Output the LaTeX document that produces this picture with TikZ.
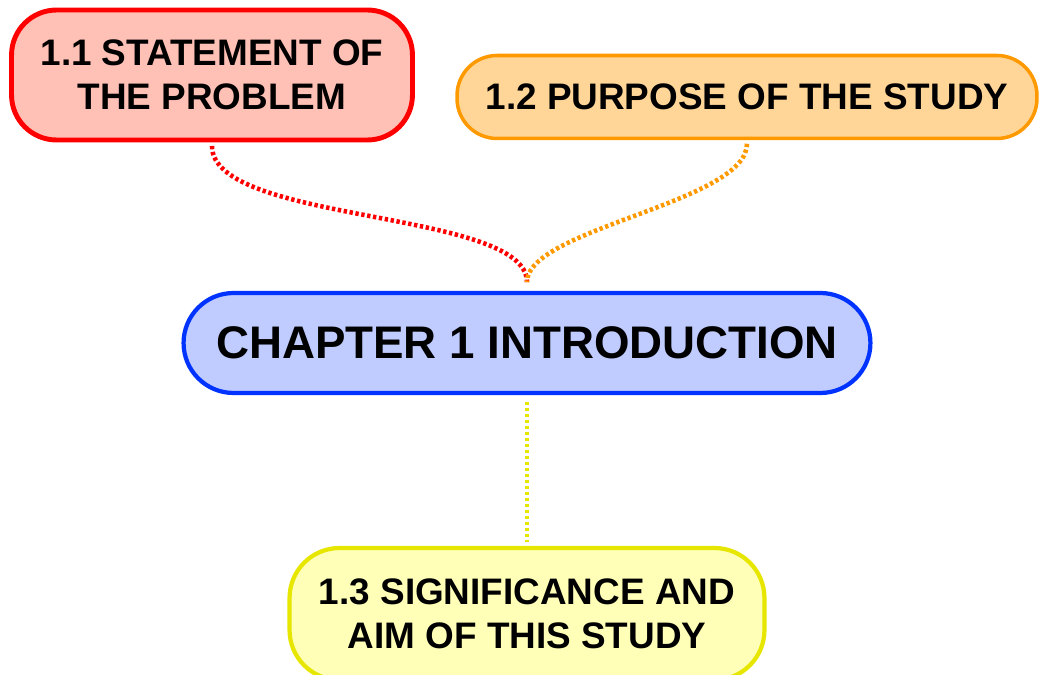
\documentclass[tikz,border=0pt]{standalone}
\usepackage{fontspec}
\setmainfont{Liberation Sans}
\definecolor{redline}{HTML}{FF0000}
\definecolor{redfill}{HTML}{FFC0B6}
\definecolor{orangeline}{HTML}{FF9900}
\definecolor{orangefill}{HTML}{FFD698}
\definecolor{blueline}{HTML}{0033FF}
\definecolor{bluefill}{HTML}{C0CCFF}
\definecolor{yellowline}{HTML}{E6E600}
\definecolor{yellowfill}{HTML}{FFFFB8}

\begin{document}
\begin{tikzpicture}[x=0.02cm, y=-0.02cm,
  topic/.style={draw, align=center, inner sep=0pt, line width=2.4pt,
    font=\fontsize{21}{25}\selectfont\bfseries},
  link/.style={line width=2.6pt, dash pattern=on 1.9pt off 1.5pt}]
  \useasboundingbox (0,0) rectangle (1042,675);

  % Centre topic
  \node[topic, draw=blueline, fill=bluefill, rounded corners=1cm,
    minimum width=13.74cm, minimum height=2cm,
    font=\fontsize{26}{30}\selectfont\bfseries] (chapter) at (527,343) {CHAPTER 1 INTRODUCTION};

  % Sub topics
  \node[topic, draw=redline, fill=redfill, rounded corners=0.9cm, line width=2.8pt,
    minimum width=8.02cm, minimum height=2.6cm] (stmt) at (212,75) {1.1 STATEMENT OF\\THE PROBLEM};
  \node[topic, draw=orangeline, fill=orangefill, rounded corners=0.8cm, line width=2pt,
    minimum width=11.6cm, minimum height=1.66cm] (purpose) at (747,97) {1.2 PURPOSE OF THE STUDY};
  \node[topic, draw=yellowline, fill=yellowfill, rounded corners=1cm,
    minimum width=9.5cm, minimum height=2.64cm] (signif) at (527,614) {1.3 SIGNIFICANCE AND\\AIM OF THIS STUDY};

  % Links
  \draw[link, redline, shorten <=2pt, shorten >=5pt] (stmt.south) to[out=-90, in=90, looseness=0.6] (chapter.north);
  \draw[link, orangeline, shorten <=2pt, shorten >=5pt] (purpose.south) to[out=-90, in=90, looseness=0.6] (chapter.north);
  \draw[link, yellowline, shorten <=4pt, shorten >=2pt] (chapter.south) -- (signif.north);
\end{tikzpicture}
\end{document}
